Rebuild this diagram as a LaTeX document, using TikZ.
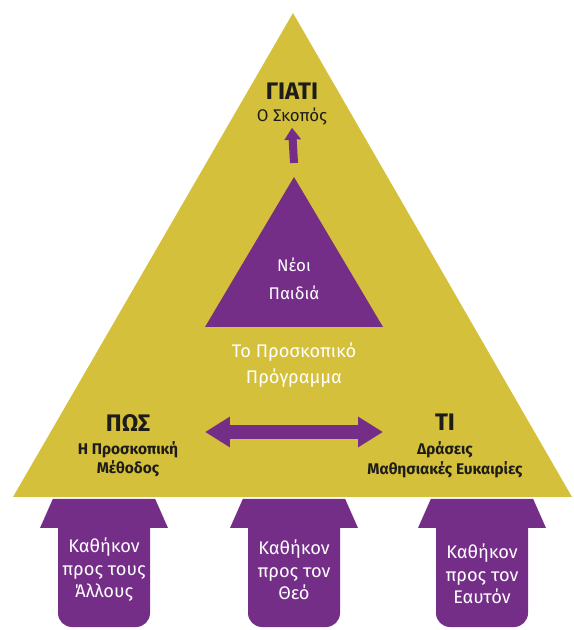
\documentclass[tikz,border=0pt]{standalone}
\usepackage{fontspec}
\setmainfont{Fira Sans}
\definecolor{scoutyellow}{RGB}{212, 192, 58}
\definecolor{scoutpurple}{RGB}{117, 46, 136}
\definecolor{inkdark}{RGB}{30, 28, 25}
\usetikzlibrary{arrows.meta}
\tikzset{
  darklabel/.style={text=inkdark, align=center, inner sep=2pt},
  lightlabel/.style={text=white, align=center, inner sep=2pt},
  dutytext/.style={lightlabel, font=\fontsize{13}{16}\selectfont},
  thickarrow/.style={draw=scoutpurple, line width=0.33cm, {Triangle[length=0.62cm, width=0.72cm]}-{Triangle[length=0.62cm, width=0.72cm]}},
  thinarrow/.style={draw=scoutpurple, line width=0.2cm, -{Triangle[length=0.3cm, width=0.4cm]}}
}

\begin{document}
\begin{tikzpicture}
  \useasboundingbox (0,0) rectangle (14.35,15.75);

  % Programme triangle
  \fill[scoutyellow] (7.325,15.425) -- (14.3,3.325) -- (0.325,3.325) -- cycle;

  % Young people
  \fill[scoutpurple] (7.35,11.325) -- (9.575,7.575) -- (5.125,7.575) -- cycle;
  \node[lightlabel, font=\fontsize{12}{20}\selectfont] (youth) at (7.35, 8.775) {Νέοι\\Παιδιά};

  % Why
  \node[darklabel, font=\fontsize{12}{14}\selectfont] (why) at (7.3, 13.15) {
    {\fontsize{17}{18}\selectfont\bfseries ΓΙΑΤΙ}\\[1pt]
    Ο Σκοπός
  };
  \coordinate (youthtop) at (7.35, 11.675);
  \draw[thinarrow] (youthtop) -- (why.south);

  % Programme
  \node[lightlabel, font=\fontsize{13}{18}\selectfont] (programme) at (7.35, 6.625) {Το Προσκοπικό\\Πρόγραμμα};

  % How
  \node[darklabel, font=\fontsize{11}{14}\selectfont\bfseries] (how) at (3.2, 4.6) {
    {\fontsize{17}{18}\selectfont ΠΩΣ}\\[2pt]
    Η Προσκοπική\\Μέθοδος
  };

  % What
  \node[darklabel, font=\fontsize{11}{14}\selectfont\bfseries] (what) at (11.125, 4.6) {
    {\fontsize{17}{18}\selectfont ΤΙ}\\[3pt]
    Δράσεις\\Μαθησιακές Ευκαιρίες
  };
  \coordinate (howtip) at (5.125, 4.95);
  \coordinate (whattip) at (9.575, 4.95);
  \draw[thickarrow] (howtip) -- (whattip);

  % Duties
  \foreach \cx in {2.6, 7.35, 12.05} {
    \fill[scoutpurple] (\cx-1.28,3.275) -- (\cx+1.28,3.275) -- (\cx+1.6,2.55) -- (\cx+1.15,2.55)
      -- (\cx+1.15,0.425) arc[start angle=0, end angle=-90, radius=0.35]
      -- (\cx-0.8,0.075) arc[start angle=270, end angle=180, radius=0.35]
      -- (\cx-1.15,2.55) -- (\cx-1.6,2.55) -- cycle;
  }
  \node[dutytext] (others) at (2.6, 1.5) {Καθήκον\\προς τους\\Άλλους};
  \node[dutytext] (god) at (7.35, 1.5) {Καθήκον\\προς τον\\Θεό};
  \node[dutytext] (self) at (12.05, 1.4) {Καθήκον\\προς τον\\Εαυτόν};
\end{tikzpicture}
\end{document}
